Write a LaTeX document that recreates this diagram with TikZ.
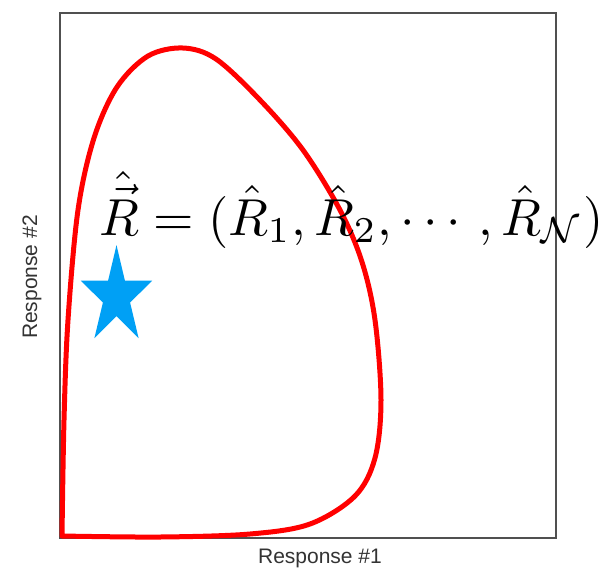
\documentclass[tikz,border=0pt]{standalone}
\usepackage{amsmath}
\usepackage{fontspec}
\newfontfamily\labelfont{Liberation Sans}
\definecolor{boxgray}{RGB}{80,80,80}
\definecolor{starblue}{RGB}{0,160,245}
\definecolor{curvered}{RGB}{255,0,0}
\tikzset{
  framebox/.style={draw=boxgray, line width=2pt},
  regioncurve/.style={draw=curvered, line width=5pt, line join=round, line cap=round},
  axislabel/.style={font=\labelfont\fontsize{21}{24}\selectfont, text=black!80, inner sep=0pt},
  formula/.style={scale=5.2, inner sep=0pt, anchor=base west}
}
\begin{document}
\begin{tikzpicture}[x=1pt,y=-1pt]
\useasboundingbox (0,0) rectangle (602,576);
\fill[white] (0,0) rectangle (602,576);
\draw[framebox] (60,13) rectangle (556,538);
\draw[regioncurve] plot[smooth, tension=0.55] coordinates {
  (62,536) (64,420) (68,320) (78,210) (94,138) (117,87) (148,56) (183,48)
  (216,59) (260,100) (303,150) (340,210) (362,262) (375,320)
  (381,400) (375,458) (355,496) (310,524) (250,534) (160,537) (62,536)};
\fill[starblue] (116.5,245.1) -- (124.9,280.6) -- (152.2,280.6) -- (130.1,302.6)
  -- (138.6,338.1) -- (116.5,316.1) -- (94.4,338.1) -- (102.9,302.6)
  -- (80.8,280.6) -- (108.1,280.6) -- cycle;
\node[formula] (eq) at (98,235) {$\hat{\vec{R}} = (\hat{R}_1, \hat{R}_2, \cdots, \hat{R}_{\mathcal{N}})$};
\node[axislabel] (xl) at (320,558) {Response \#1};
\node[axislabel, rotate=90] (yl) at (32,277) {Response \#2};
\end{tikzpicture}
\end{document}
